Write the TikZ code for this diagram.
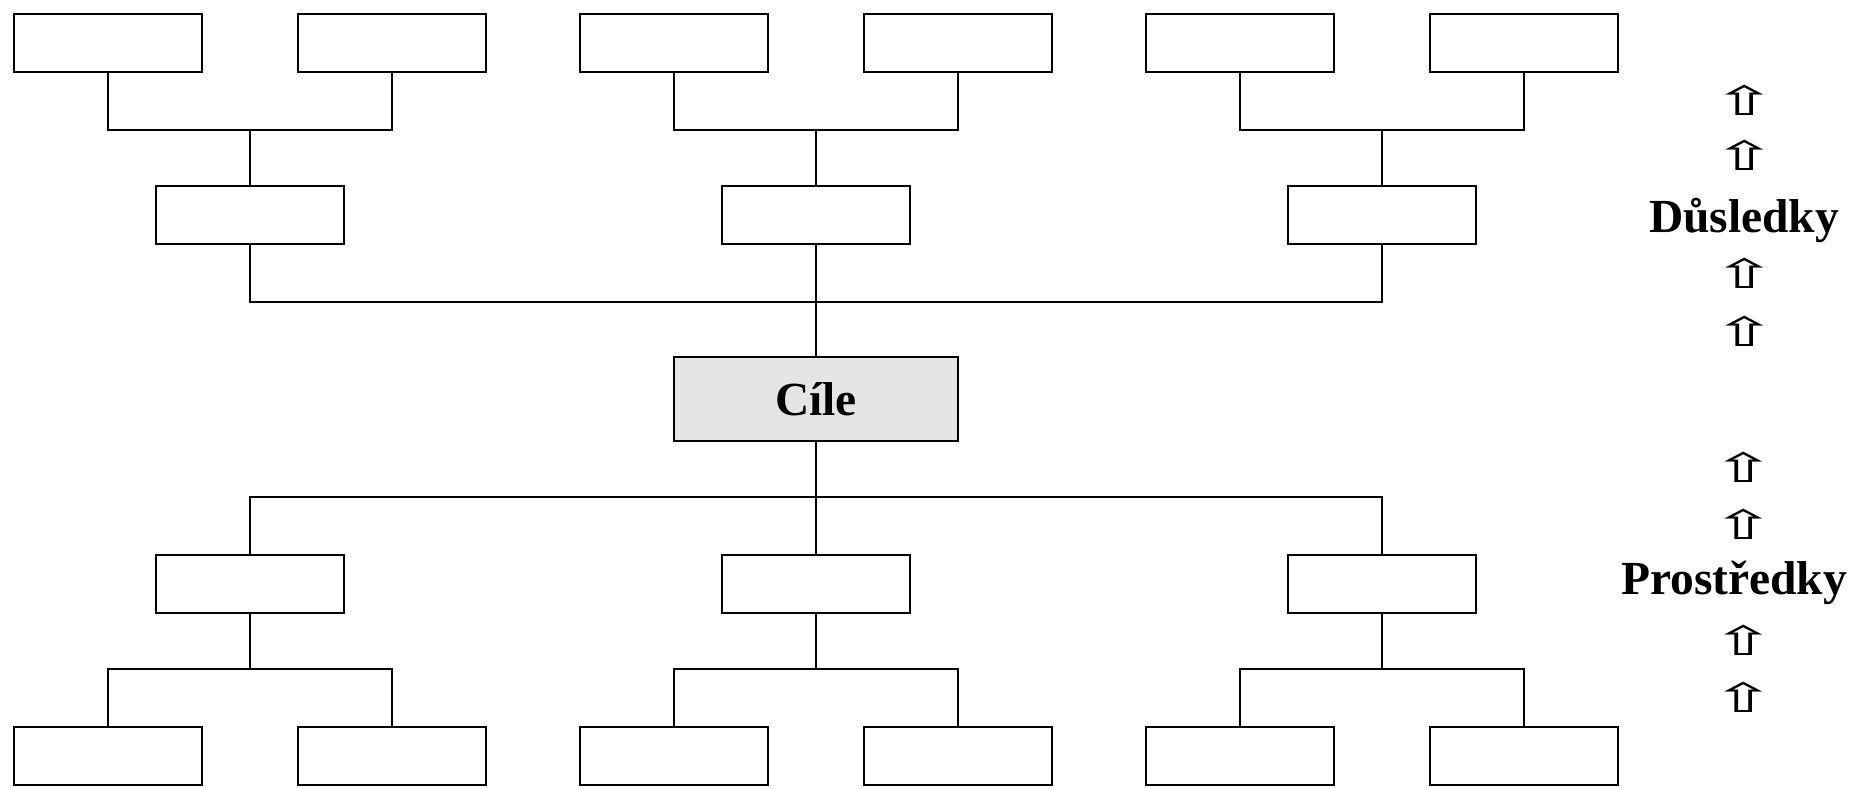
\documentclass[tikz,border=0pt]{standalone}
\usepackage{fontspec}
\setmainfont{Liberation Serif}
\newfontfamily\arrowfont{DejaVu Sans}
\usepackage{tikz}

\tikzset{
  upmark/.style={inner sep=0pt,font=\arrowfont\fontsize{11.5}{13}\selectfont}
}
\newcommand{\uparr}{\scalebox{1.9}[1]{⇧}}

\begin{document}
\begin{tikzpicture}[x=0.01cm, y=-0.01cm, line width=0.45pt]

      \useasboundingbox (0,0) rectangle (1850,789);

      \begin{scope}[every node/.style={rectangle,draw,line width=0.5pt,
          minimum width=1.88cm,minimum height=0.58cm,inner sep=0pt}]
        % upper tier
        \node (t1) at (108,43) {};
        \node (t2) at (392,43) {};
        \node (t3) at (674,43) {};
        \node (t4) at (958,43) {};
        \node (t5) at (1240,43) {};
        \node (t6) at (1524,43) {};
        \node (m1) at (250,215) {};
        \node (m2) at (816,215) {};
        \node (m3) at (1382,215) {};
        % lower tier
        \node (n1) at (250,584) {};
        \node (n2) at (816,584) {};
        \node (n3) at (1382,584) {};
        \node (b1) at (108,756) {};
        \node (b2) at (392,756) {};
        \node (b3) at (674,756) {};
        \node (b4) at (958,756) {};
        \node (b5) at (1240,756) {};
        \node (b6) at (1524,756) {};
      \end{scope}

      \node[rectangle,draw,fill=gray!20,minimum width=2.84cm,minimum height=0.84cm,
        font=\fontsize{13.5}{16}\selectfont\bfseries] (cile) at (816,399) {Cíle};

      \coordinate (j1) at (250,130);
      \coordinate (j2) at (816,130);
      \coordinate (j3) at (1382,130);
      \coordinate (jt) at (816,302);
      \coordinate (jb) at (816,497);
      \coordinate (k1) at (250,669);
      \coordinate (k2) at (816,669);
      \coordinate (k3) at (1382,669);

      \draw (t1.south) |- (j1) -| (t2.south);
      \draw (t3.south) |- (j2) -| (t4.south);
      \draw (t5.south) |- (j3) -| (t6.south);
      \draw (j1) -- (m1.north);
      \draw (j2) -- (m2.north);
      \draw (j3) -- (m3.north);
      \draw (m1.south) |- (jt) -| (m3.south);
      \draw (m2.south) -- (cile.north);
      \draw (cile.south) -- (n2.north);
      \draw (n1.north) |- (jb) -| (n3.north);
      \draw (n1.south) -- (k1);
      \draw (n2.south) -- (k2);
      \draw (n3.south) -- (k3);
      \draw (b1.north) |- (k1) -| (b2.north);
      \draw (b3.north) |- (k2) -| (b4.north);
      \draw (b5.north) |- (k3) -| (b6.north);

      % side labels
      \begin{scope}[every node/.style={inner sep=0pt,anchor=base,
          font=\fontsize{13.5}{16}\selectfont\bfseries}]
        \node (dus) at (1744,233) {Důsledky};
        \node (pro) at (1734,595) {Prostředky};
      \end{scope}
      \node[upmark] (a1) at (1745,100) {\uparr};
      \node[upmark] (a2) at (1745,155) {\uparr};
      \node[upmark] (a3) at (1745,273) {\uparr};
      \node[upmark] (a4) at (1745,331) {\uparr};
      \node[upmark] (a5) at (1744,467) {\uparr};
      \node[upmark] (a6) at (1744,524) {\uparr};
      \node[upmark] (a7) at (1744,640) {\uparr};
      \node[upmark] (a8) at (1744,697) {\uparr};
    \end{tikzpicture}
\end{document}
